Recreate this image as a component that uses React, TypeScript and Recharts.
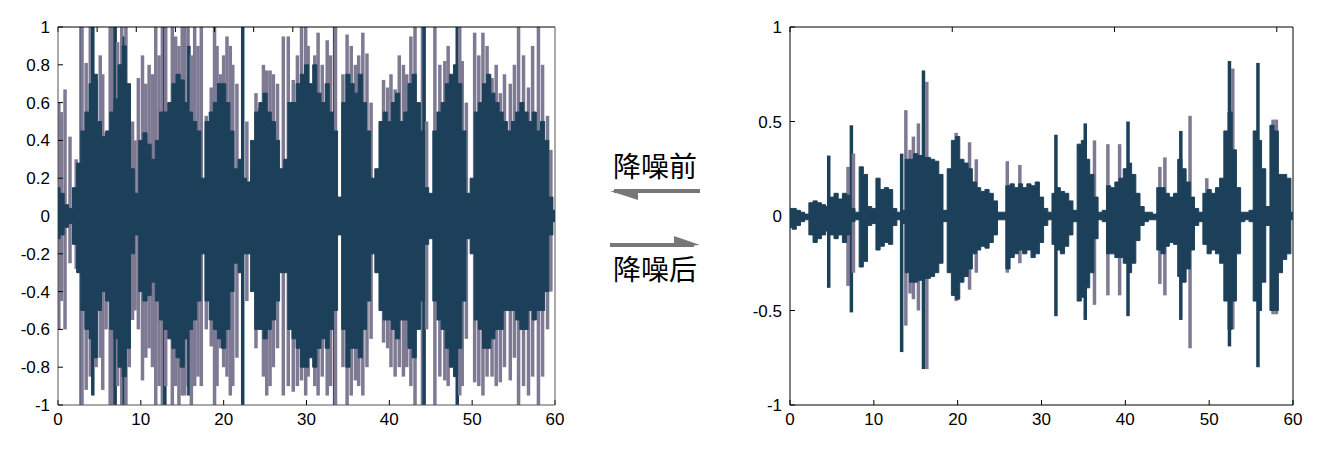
import React from "react";
import { ComposedChart, Area, Bar, XAxis, YAxis } from "recharts";

// ---------- Left chart (降噪前) ----------
const leftCoreHi = [
  0.15, 0.12, 0.06, 0.04, 0.15, 0.28, 0.45, 0.55, 0.7, 0.75,
  0.5, 0.42, 0.45, 0.55, 0.62, 0.8, 0.9, 0.7, 0.25, 0.12,
  0.4, 0.44, 0.38, 0.3, 0.4, 0.55, 0.55, 0.6, 0.7, 0.75,
  0.72, 0.6, 0.55, 0.5, 0.45, 0.2, 0.5, 0.55, 0.6, 0.7,
  0.7, 0.6, 0.45, 0.25, 0.3, 0.2, 0.18, 0.4, 0.55, 0.6,
  0.65, 0.55, 0.5, 0.4, 0.25, 0.3, 0.6, 0.6, 0.7, 0.75,
  0.8, 0.7, 0.8, 0.65, 0.6, 0.7, 0.55, 0.45, 0.1, 0.6,
  0.75, 0.7, 0.65, 0.75, 0.6, 0.45, 0.2, 0.25, 0.5, 0.55,
  0.5, 0.6, 0.65, 0.5, 0.55, 0.7, 0.75, 0.6, 0.45, 0.15,
  0.12, 0.45, 0.55, 0.6, 0.7, 0.75, 0.8, 0.7, 0.45, 0.12,
  0.2, 0.55, 0.6, 0.7, 0.75, 0.65, 0.6, 0.55, 0.5, 0.45,
  0.5, 0.55, 0.6, 0.55, 0.5, 0.55, 0.45, 0.5, 0.4, 0.1,
  0.03,
];
const leftCoreLo = [
  -0.12, -0.1, -0.06, -0.04, -0.15, -0.3, -0.5, -0.6, -0.65, -0.75,
  -0.5, -0.4, -0.45, -0.6, -0.65, -0.8, -0.85, -0.7, -0.2, -0.1,
  -0.4, -0.45, -0.42, -0.35, -0.45, -0.55, -0.6, -0.65, -0.7, -0.75,
  -0.8, -0.65, -0.6, -0.55, -0.45, -0.2, -0.45, -0.55, -0.6, -0.65,
  -0.7, -0.6, -0.4, -0.25, -0.3, -0.2, -0.2, -0.4, -0.6, -0.6,
  -0.65, -0.6, -0.55, -0.45, -0.3, -0.3, -0.6, -0.65, -0.7, -0.8,
  -0.8, -0.75, -0.8, -0.7, -0.65, -0.7, -0.6, -0.5, -0.1, -0.6,
  -0.8, -0.7, -0.7, -0.75, -0.6, -0.45, -0.2, -0.3, -0.5, -0.55,
  -0.55, -0.6, -0.65, -0.55, -0.55, -0.7, -0.75, -0.6, -0.45, -0.15,
  -0.12, -0.45, -0.55, -0.6, -0.7, -0.8, -0.85, -0.7, -0.45, -0.12,
  -0.2, -0.55, -0.6, -0.7, -0.7, -0.65, -0.6, -0.6, -0.5, -0.5,
  -0.5, -0.55, -0.6, -0.6, -0.5, -0.55, -0.5, -0.5, -0.4, -0.1,
  -0.03,
];
const leftGreyT = [
  0.1, 0.85, 1.45, 2.9, 3.4, 3.9, 4.6, 5.4, 5.8, 6.3, 6.6, 7.2, 7.7, 8.2, 8.6,
  9.3, 9.7, 10.2, 11.0, 11.8, 12.6, 13.0, 13.8, 14.2, 15.0, 15.7, 16.5, 17.3,
  17.9, 18.5, 18.9, 19.6, 20.4, 21.1, 23.4, 24.3, 25.2, 25.6, 27.2, 27.8, 28.4,
  29.4, 30.6, 31.4, 32.5, 33.5, 34.9, 35.9, 36.8, 37.3, 38.5, 39.3, 39.8, 40.7,
  42.1, 43.1, 44.0, 45.5, 46.7, 47.5, 48.8, 50.3, 51.3, 52.4, 53.4, 54.6, 55.6,
  56.8, 58.0, 59.1,
  0.4, 2.2, 5.1, 9.0, 10.6, 11.4, 12.2, 14.6, 15.3, 16.1, 16.9, 19.2, 20.0,
  20.8, 21.6, 22.8, 23.9, 24.8, 26.0, 26.5, 28.9, 29.9, 30.2, 31.0, 31.9, 32.9,
  34.4, 35.4, 36.3, 37.8, 40.2, 41.2, 41.7, 42.6, 44.5, 46.1, 47.1, 48.5, 49.3,
  50.8, 51.8, 52.9, 53.9, 55.1, 56.2, 57.3, 58.5, 59.5,
];
const leftGreyHi = [
  0.6, 0.67, 0.42, 1, 0.81, 1, 0.72, 0.75, 0.44, 1, 1, 0.92, 1, 1, 0.6,
  0.4, 0.73, 0.85, 0.8, 1, 1, 1, 1, 0.95, 1, 1, 1, 1,
  0.53, 0.68, 1, 0.75, 0.95, 0.8, 0.22, 0.57, 0.77, 0.77, 0.95, 0.95, 0.72,
  1, 0.55, 0.97, 0.93, 1, 0.96, 0.8, 0.97, 0.86, 0.25, 0.72, 0.68, 0.67,
  0.75, 1, 1, 1, 0.82, 0.73, 0.82, 0.97, 0.97, 0.73, 0.65, 0.7, 1,
  0.68, 1, 0.53,
  0.55, 0.3, 0.85, 0.5, 0.7, 0.75, 0.85, 0.9, 1, 0.85, 0.9, 0.9, 0.85,
  0.9, 0.7, 0.5, 0.65, 0.8, 0.75, 0.7, 0.85, 1, 0.9, 0.85, 0.8, 0.85,
  0.75, 0.9, 0.85, 0.6, 0.75, 0.85, 0.8, 0.95, 0.5, 0.8, 0.9, 1, 0.6,
  0.85, 0.9, 0.8, 0.75, 0.8, 0.85, 0.9, 0.8, 0.35,
];
const leftGreyLo = [
  -0.6, -0.6, -0.25, -1, -0.92, -0.85, -0.8, -0.92, -0.6, -1, -1, -0.9, -1, -1, -0.8,
  -0.5, -0.6, -0.87, -0.7, -1, -1, -0.9, -1, -0.9, -0.95, -0.9, -0.9, -0.9,
  -0.6, -0.69, -1, -0.7, -0.85, -0.9, -0.15, -0.56, -0.95, -0.9, -0.95, -0.9, -0.93,
  -0.87, -0.67, -0.95, -0.95, -1, -1, -0.87, -0.95, -0.8, -0.3, -0.67, -0.7, -0.85,
  -0.8, -1, -1, -1, -0.87, -0.8, -0.9, -0.88, -0.95, -0.85, -0.88, -0.87, -1,
  -0.95, -1, -0.6,
  -0.45, -0.28, -0.75, -0.55, -0.75, -0.8, -0.9, -1, -0.95, -1, -0.85, -0.9, -0.8,
  -0.95, -0.75, -0.45, -0.7, -0.85, -0.8, -0.7, -0.9, -0.95, -0.85, -0.9, -0.85, -0.9,
  -0.8, -0.95, -0.9, -0.65, -0.8, -0.8, -0.85, -0.9, -0.6, -0.85, -0.9, -0.95, -0.65,
  -0.9, -0.85, -0.9, -0.8, -0.75, -0.9, -0.85, -0.85, -0.4,
];
const leftDarkT = [2.8, 4.2, 6.9, 8.0, 12.9, 15.8, 22.3, 33.4, 44.2, 48.2];
const leftDarkHi = [1, 1, 1, 0.95, 1, 0.9, 1, 1, 1, 1];
const leftDarkLo = [-1, -0.95, -1, -1, -1, -0.95, -1, -1, -1, -1];
const leftYTicks = [-1, -0.8, -0.6, -0.4, -0.2, 0, 0.2, 0.4, 0.6, 0.8, 1];

// ---------- Right chart (降噪后) ----------
const rightCoreHi = [
  0.04, 0.04, 0.03, 0.02, 0.01, 0.07, 0.08, 0.07, 0.06, 0.05,
  0.1, 0.12, 0.09, 0.12, 0.11, 0.04, 0.02, 0.26, 0.22, 0.05,
  0.04, 0.2, 0.14, 0.15, 0.14, 0.04, 0.02, 0.03, 0.3, 0.3,
  0.33, 0.32, 0.31, 0.31, 0.3, 0.29, 0.22, 0.03, 0.25, 0.4,
  0.42, 0.3, 0.28, 0.25, 0.18, 0.15, 0.13, 0.14, 0.12, 0.08,
  0.02, 0.02, 0.16, 0.17, 0.15, 0.17, 0.15, 0.17, 0.16, 0.18,
  0.1, 0.04, 0.02, 0.12, 0.15, 0.13, 0.12, 0.08, 0.03, 0.38,
  0.4, 0.3, 0.22, 0.1, 0.02, 0.03, 0.16, 0.15, 0.18, 0.2,
  0.25, 0.28, 0.22, 0.12, 0.05, 0.02, 0.02, 0.01, 0.15, 0.15,
  0.12, 0.1, 0.12, 0.3, 0.25, 0.18, 0.1, 0.04, 0.02, 0.12,
  0.14, 0.12, 0.15, 0.2, 0.45, 0.55, 0.35, 0.15, 0.02, 0.02,
  0.03, 0.45, 0.4, 0.25, 0.05, 0.48, 0.45, 0.22, 0.22, 0.2,
  0.02,
];
const rightCoreLo = [
  -0.06, -0.07, -0.05, -0.03, -0.02, -0.1, -0.14, -0.12, -0.1, -0.08,
  -0.1, -0.12, -0.1, -0.14, -0.1, -0.03, -0.02, -0.27, -0.24, -0.05,
  -0.04, -0.18, -0.16, -0.14, -0.15, -0.05, -0.02, -0.04, -0.3, -0.35,
  -0.35, -0.34, -0.33, -0.33, -0.32, -0.3, -0.25, -0.03, -0.3, -0.42,
  -0.44, -0.35, -0.32, -0.28, -0.2, -0.18, -0.16, -0.17, -0.14, -0.1,
  -0.02, -0.02, -0.28, -0.22, -0.2, -0.18, -0.2, -0.18, -0.22, -0.2,
  -0.14, -0.05, -0.02, -0.15, -0.18, -0.2, -0.16, -0.1, -0.03, -0.45,
  -0.43, -0.38, -0.3, -0.12, -0.02, -0.03, -0.2, -0.2, -0.22, -0.22,
  -0.25, -0.3, -0.25, -0.13, -0.05, -0.03, -0.02, -0.02, -0.18, -0.2,
  -0.16, -0.14, -0.15, -0.32, -0.35, -0.28, -0.18, -0.05, -0.03, -0.15,
  -0.2, -0.18, -0.2, -0.25, -0.45, -0.6, -0.45, -0.2, -0.03, -0.02,
  -0.03, -0.45, -0.5, -0.35, -0.05, -0.5, -0.5, -0.3, -0.23, -0.2,
  -0.02,
];
const rightGreyT = [
  6.9, 7.55, 13.8, 14.3, 14.7, 15.3, 16.3, 19.8, 21.4, 22.2, 25.9, 27.4,
  36.3, 37.9, 39.3, 44.1, 44.7, 47.7, 49.7, 52.8, 57.6, 58.0,
];
const rightGreyHi = [
  0.26, 0.33, 0.56, 0.35, 0.42, 0.49, 0.71, 0.44, 0.39, 0.3, 0.29, 0.27,
  0.4, 0.38, 0.38, 0.26, 0.31, 0.53, 0.2, 0.78, 0.51, 0.51,
];
const rightGreyLo = [
  -0.37, -0.3, -0.58, -0.41, -0.44, -0.5, -0.81, -0.45, -0.39, -0.3, -0.3, -0.25,
  -0.47, -0.42, -0.42, -0.36, -0.42, -0.7, -0.15, -0.6, -0.52, -0.52,
];
const rightDarkT = [4.6, 7.3, 13.3, 15.9, 31.7, 35.2, 40.3, 46.6, 52.4, 55.8];
const rightDarkHi = [0.32, 0.48, 0.33, 0.77, 0.43, 0.49, 0.5, 0.45, 0.82, 0.81];
const rightDarkLo = [-0.38, -0.51, -0.72, -0.81, -0.53, -0.55, -0.53, -0.55, -0.69, -0.8];
const rightYTicks = [-1, -0.5, 0, 0.5, 1];

const xTicks = [0, 10, 20, 30, 40, 50, 60];
const coreStep = 0.5;

const DARK = "#1d405a";
const GREY = "#7f7a94";
const FONT = "'Liberation Sans', Arial, sans-serif";

function buildCore(hi: number[], lo: number[]) {
  return hi.map((h, i) => ({ t: i * coreStep, v: [lo[i], h] }));
}
function buildSpikes(gt: number[], gh: number[], gl: number[], dt: number[], dh: number[], dl: number[]) {
  const rows: any[] = [];
  gt.forEach((t, i) => rows.push({ t, r: [gl[i], gh[i]], kind: "grey" }));
  dt.forEach((t, i) => rows.push({ t, r: [dl[i], dh[i]], kind: "dark" }));
  rows.sort((a, b) => a.t - b.t);
  return rows;
}

const Empty = () => <g />;

// spike shape: keeps the library's y / height and centre x, fixed stroke width
const SpikeShape = (props: any) => {
  const { x, y, width, height, payload } = props;
  if (x == null || y == null || height == null) return <g />;
  const cx = x + (width || 0) / 2;
  const w = 3.5;
  const top = Math.min(y, y + height);
  const h = Math.abs(height);
  return (
    <rect
      x={cx - w / 2}
      y={top}
      width={w}
      height={h}
      fill={payload && payload.kind === "dark" ? DARK : GREY}
    />
  );
};

const CHART_H = 440;
const TOP = 27;
const BOTTOM = 35;

type WaveProps = {
  width: number;
  yWidth: number;
  marginRight: number;
  core: any[];
  spikes: any[];
  yTicks: number[];
  axisColor: string;
};

function SpikeLayer({ width, yWidth, marginRight, spikes, yTicks, axisColor }: WaveProps) {
  const tickStyle = { fill: "#000", fontSize: 17, fontFamily: FONT };
  return (
    <ComposedChart
      width={width}
      height={CHART_H}
      data={spikes}
      margin={{ top: TOP - 1, right: marginRight - 1, bottom: BOTTOM - 30, left: 0 }}
    >
      <XAxis
        xAxisId="b"
        dataKey="t"
        type="number"
        domain={[0, 60]}
        ticks={xTicks}
        allowDataOverflow
        height={30}
        tickSize={-5}
        tickMargin={13}
        tick={tickStyle}
        tickLine={{ stroke: "#000" }}
        axisLine={{ stroke: axisColor }}
      />
      <XAxis
        xAxisId="t"
        orientation="top"
        type="number"
        domain={[0, 60]}
        ticks={xTicks}
        height={1}
        tickSize={-5}
        tick={Empty}
        tickLine={{ stroke: "#000" }}
        axisLine={{ stroke: "#000" }}
      />
      <YAxis
        yAxisId="l"
        type="number"
        domain={[-1, 1]}
        ticks={yTicks}
        allowDataOverflow
        width={yWidth}
        tickSize={-5}
        tickMargin={13}
        tick={tickStyle}
        tickLine={{ stroke: "#000" }}
        axisLine={{ stroke: axisColor }}
        interval={0}
      />
      <YAxis
        yAxisId="r"
        orientation="right"
        type="number"
        domain={[-1, 1]}
        ticks={yTicks}
        width={1}
        tickSize={-5}
        tick={Empty}
        tickLine={{ stroke: "#000" }}
        axisLine={{ stroke: axisColor }}
        interval={0}
      />
      <Bar
        xAxisId="b"
        yAxisId="l"
        dataKey="r"
        fill={GREY}
        shape={SpikeShape}
        isAnimationActive={false}
      />
    </ComposedChart>
  );
}

function CoreLayer({ width, yWidth, marginRight, core }: WaveProps) {
  return (
    <ComposedChart
      width={width}
      height={CHART_H}
      data={core}
      margin={{ top: TOP, right: marginRight, bottom: BOTTOM, left: yWidth }}
    >
      <XAxis dataKey="t" type="number" domain={[0, 60]} allowDataOverflow hide />
      <YAxis type="number" domain={[-1, 1]} allowDataOverflow hide />
      <Area
        dataKey="v"
        type="step"
        fill={DARK}
        fillOpacity={1}
        stroke={DARK}
        strokeWidth={1}
        isAnimationActive={false}
        dot={false}
        activeDot={false}
      />
    </ComposedChart>
  );
}

function Wave(p: WaveProps) {
  return (
    <div style={{ position: "relative", width: p.width, height: CHART_H }}>
      <div style={{ position: "absolute", left: 0, top: 0 }}>
        <SpikeLayer {...p} />
      </div>
      <div style={{ position: "absolute", left: 0, top: 0 }}>
        <CoreLayer {...p} />
      </div>
    </div>
  );
}

export default function App() {
  const leftCore = buildCore(leftCoreHi, leftCoreLo);
  const rightCore = buildCore(rightCoreHi, rightCoreLo);
  const leftSpikes = buildSpikes(leftGreyT, leftGreyHi, leftGreyLo, leftDarkT, leftDarkHi, leftDarkLo);
  const rightSpikes = buildSpikes(rightGreyT, rightGreyHi, rightGreyLo, rightDarkT, rightDarkHi, rightDarkLo);
  return (
    <div style={{ position: "absolute", left: 0, top: 0, width: 1328, height: 457, background: "#fff" }}>
      <div style={{ position: "absolute", left: 0, top: 0 }}>
        <Wave
          width={575}
          yWidth={58}
          marginRight={20}
          core={leftCore}
          spikes={leftSpikes}
          yTicks={leftYTicks}
          axisColor="#555"
        />
      </div>
      <div style={{ position: "absolute", left: 730, top: 0 }}>
        <Wave
          width={590}
          yWidth={60}
          marginRight={27}
          core={rightCore}
          spikes={rightSpikes}
          yTicks={rightYTicks}
          axisColor="#000"
        />
      </div>
      <svg style={{ position: "absolute", left: 580, top: 130 }} width={160} height={170}>
        <text
          x={75}
          y={47}
          textAnchor="middle"
          fontSize={28}
          fontFamily="'Noto Sans CJK SC', sans-serif"
          fill="#000"
        >
          降噪前
        </text>
        <line x1={34} y1={61} x2={120} y2={61} stroke="#777" strokeWidth={4} />
        <polygon points="30,61 58,59 58,70" fill="#777" />
        <line x1={30} y1={115} x2={114} y2={115} stroke="#777" strokeWidth={4} />
        <polygon points="120,115 94,106 94,117" fill="#777" />
        <text
          x={75}
          y={150}
          textAnchor="middle"
          fontSize={28}
          fontFamily="'Noto Sans CJK SC', sans-serif"
          fill="#000"
        >
          降噪后
        </text>
      </svg>
    </div>
  );
}
